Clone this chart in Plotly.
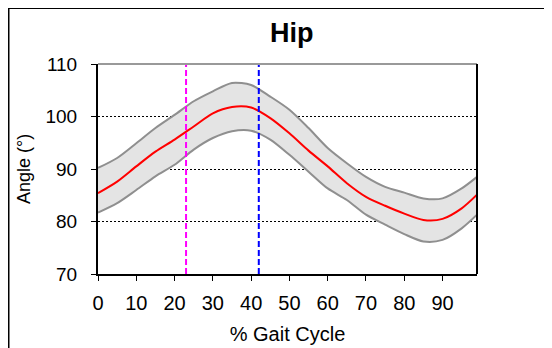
import plotly.graph_objects as go

# ---- data ----
gait_pct = [0, 5, 10, 15, 20, 25, 30, 35, 40, 45, 50, 55, 60, 65, 70, 75, 80, 85, 90, 95, 99]
mean_angle = [85.4, 87.6, 90.5, 93.3, 95.6, 98.1, 100.6, 101.8, 101.7, 99.7, 96.8, 93.5,
              90.5, 87.3, 84.7, 83.0, 81.5, 80.3, 80.5, 82.5, 85.1]
upper_angle = [90.2, 92.1, 94.9, 97.8, 100.3, 102.9, 104.8, 106.4, 106.0, 103.8, 101.3, 97.8,
               94.0, 91.1, 88.5, 86.6, 85.5, 84.4, 84.4, 86.3, 88.5]
lower_angle = [81.7, 83.5, 86.0, 88.6, 90.8, 93.7, 95.9, 97.2, 97.3, 95.6, 92.7, 89.5,
               86.3, 84.1, 81.3, 79.4, 77.6, 76.2, 76.5, 78.7, 81.3]
event_1 = 23   # magenta marker (% gait cycle)
event_2 = 42   # blue marker (% gait cycle)
y_range = [70, 110]
x_range = [0, 99]
x_ticks = [0, 10, 20, 30, 40, 50, 60, 70, 80, 90]
y_ticks = [70, 80, 90, 100, 110]

# the page body adds an 8px offset, so the figure is laid out 8px smaller
W, H = 544, 340
L, R, T, B = 90, 75, 56, 74
pw, ph = W - L - R, H - T - B

def px_to_paper_x(px):
    return (px - L) / pw

def py_to_paper_y(py):
    return (H - B - py) / ph

FONT = "Liberation Sans, Arial, sans-serif"
band_line = "#8f8f8f"

fig = go.Figure()
fig.add_trace(go.Scatter(x=gait_pct, y=lower_angle, mode="lines",
                         line=dict(color=band_line, width=2, shape="spline", smoothing=0.8),
                         hoverinfo="skip", showlegend=False))
fig.add_trace(go.Scatter(x=gait_pct, y=upper_angle, mode="lines", fill="tonexty",
                         fillcolor="#e4e4e4",
                         line=dict(color=band_line, width=2, shape="spline", smoothing=0.8),
                         hoverinfo="skip", showlegend=False))
fig.add_trace(go.Scatter(x=gait_pct, y=mean_angle, mode="lines",
                         line=dict(color="#ff0000", width=2, shape="spline", smoothing=0.8),
                         showlegend=False))
fig.add_trace(go.Scatter(x=[event_1, event_1], y=y_range, mode="lines",
                         line=dict(color="#ff00ff", width=2, dash="6px,3px"), showlegend=False))
fig.add_trace(go.Scatter(x=[event_2, event_2], y=y_range, mode="lines",
                         line=dict(color="#0000ff", width=2, dash="6px,3px"), showlegend=False))

shapes = [
    # top border of plot area (gray)
    dict(type="line", xref="paper", yref="paper", x0=0, x1=1, y0=1, y1=1,
         line=dict(color="#999999", width=2), layer="above"),
    # right border of plot area (black)
    dict(type="line", xref="paper", yref="paper", x0=1, x1=1, y0=0, y1=1,
         line=dict(color="#000000", width=2), layer="above"),
    # outer chart frame (left and top)
    dict(type="line", xref="paper", yref="paper",
         x0=px_to_paper_x(0.5), x1=px_to_paper_x(600), y0=py_to_paper_y(0), y1=py_to_paper_y(0),
         line=dict(color="#000000", width=2)),
    dict(type="line", xref="paper", yref="paper",
         x0=px_to_paper_x(0.5), x1=px_to_paper_x(0.5), y0=py_to_paper_y(0), y1=py_to_paper_y(400),
         line=dict(color="#000000", width=2)),
]

fig.update_layout(
    width=W, height=H,
    margin=dict(l=L, r=R, t=T, b=B, autoexpand=False),
    paper_bgcolor="white", plot_bgcolor="white",
    font=dict(family=FONT, color="#000000", size=18),
    title=dict(text="<b>Hip</b>", x=283.7 / W, xanchor="center",
               y=1 - 25 / H, yanchor="middle", font=dict(size=27, family=FONT)),
    shapes=shapes,
    xaxis=dict(range=x_range, tickvals=x_ticks, ticks="outside", ticklen=5, tickwidth=1,
               tickcolor="#000000", showline=True, linecolor="#000000", linewidth=2,
               showgrid=False, zeroline=False, automargin=False, ticklabelstandoff=5,
               title=dict(text="% Gait Cycle", font=dict(size=20), standoff=14),
               tickfont=dict(size=20)),
    yaxis=dict(range=y_range, tickvals=y_ticks, ticks="outside", ticklen=5, tickwidth=1,
               tickcolor="#000000", showline=True, linecolor="#000000", linewidth=2,
               showgrid=True, gridcolor="#000000", gridwidth=1, griddash="2px,2px",
               zeroline=False, automargin=False, ticklabelstandoff=10,
               title=dict(text="Angle (°)", font=dict(size=18), standoff=10),
               tickfont=dict(size=19)),
)

fig.write_html("out.html")
